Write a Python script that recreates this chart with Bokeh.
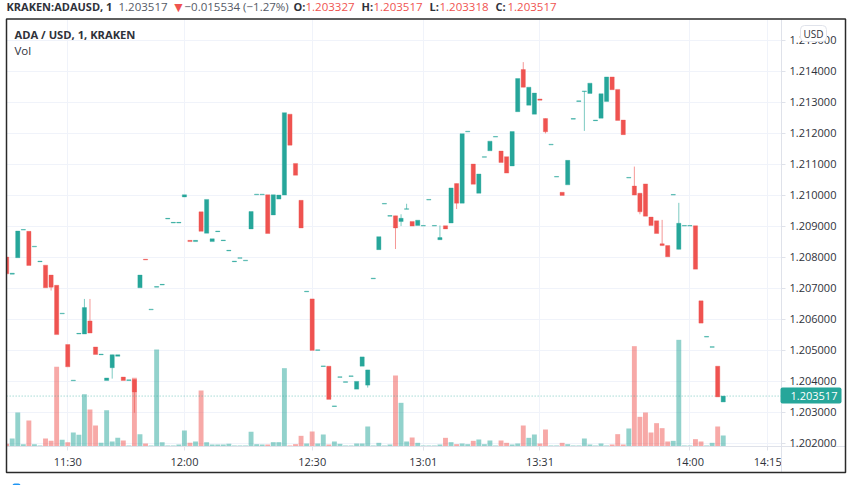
from bokeh.plotting import figure
from bokeh.models import (Range1d, FixedTicker, NumeralTickFormatter, Label,
                          BoxAnnotation, ColumnDataSource)
from bokeh.embed import file_html
from bokeh.resources import INLINE

opens = [1.20800,1.20745,1.20798,1.20887,1.20883,1.20833,1.20785,1.20774,1.20742,1.20709,
         1.20617,1.20518,1.20401,1.20552,1.20552,1.20594,1.20510,1.20485,1.20402,1.20443,
         1.20480,1.20413,1.20402,1.20405,1.20701,1.20793,1.20630,1.20703,1.20710,1.20923,
         1.20910,1.20910,1.20994,1.20854,1.20850,1.20946,1.20877,1.20850,1.20882,1.20853,
         1.20820,1.20785,1.20796,1.20788,1.20891,1.21001,1.21001,1.21001,1.20936,1.20987,
         1.21000,1.21261,1.21102,1.20983,1.20688,1.20665,1.20499,1.20447,1.20448,1.20318,
         1.20412,1.20396,1.20415,1.20374,1.20448,1.20387,1.20730,1.20824,1.20971,1.20932,
         1.20933,1.20915,1.20954,1.20915,1.20902,1.20900,1.20984,1.20900,1.20856,1.20901,
         1.20910,1.21037,1.20974,1.21204,1.21100,1.21006,1.21122,1.21143,1.21187,1.21142,
         1.21124,1.21094,1.21269,1.21405,1.21290,1.21261,1.21310,1.21247,1.21162,1.21058,
         1.21009,1.21033,1.21245,1.21302,1.21334,1.21328,1.21240,1.21248,1.21302,1.21381,
         1.21341,1.21242,1.21055,1.21029,1.21006,1.21036,1.20929,1.20917,1.20843,1.20837,
         1.21000,1.20825,1.20900,1.20900,1.20901,1.20659,1.20542,1.20509,1.20448,1.203327]
closes = [1.20746,1.20748,1.20884,1.20889,1.20773,1.20835,1.20787,1.20701,1.20703,1.20550,
          1.20619,1.20446,1.20403,1.20554,1.20637,1.20555,1.20486,1.20487,1.20410,1.20485,
          1.20485,1.20402,1.20404,1.20365,1.20742,1.20791,1.20632,1.20705,1.20712,1.20925,
          1.20912,1.20912,1.21001,1.20850,1.20854,1.20883,1.20986,1.20859,1.20884,1.20855,
          1.20822,1.20787,1.20798,1.20790,1.20947,1.21003,1.21003,1.20876,1.21001,1.21000,
          1.21266,1.21161,1.21064,1.20894,1.20690,1.20499,1.20501,1.20449,1.20341,1.20320,
          1.20414,1.20398,1.20417,1.20399,1.20478,1.20436,1.20732,1.20866,1.20973,1.20934,
          1.20894,1.20925,1.20956,1.20900,1.20919,1.20902,1.20986,1.20902,1.20863,1.20891,
          1.21023,1.20974,1.21198,1.21206,1.21035,1.21068,1.21124,1.21174,1.21189,1.21105,
          1.21071,1.21205,1.21376,1.21348,1.21348,1.21329,1.21306,1.21204,1.21164,1.21060,
          1.20999,1.21112,1.21247,1.21304,1.21336,1.21361,1.21242,1.21327,1.21381,1.21340,
          1.21241,1.21195,1.21057,1.21000,1.20946,1.20932,1.20902,1.20876,1.20837,1.20801,
          1.21002,1.20909,1.20902,1.20902,1.20761,1.20587,1.20544,1.20511,1.20349,1.203517]
wick_bars = [8,14,15,19,23,65,70,71,72,78,81,93,97,104,113,114,118,121]
wick_highs = [1.20742,1.20665,1.20665,1.20485,1.20405,1.20436,1.20933,1.20938,1.20972,1.20902,
              1.21037,1.21429,1.21247,1.21335,1.21092,1.21006,1.20920,1.20975]
wick_lows = [1.20692,1.20552,1.20555,1.20408,1.20298,1.20379,1.20826,1.20900,1.20955,1.20856,
             1.20955,1.21348,1.21199,1.21207,1.21000,1.20938,1.20837,1.20825]
volumes = [8,24,102,7,78,7,3,24,17,239,20,13,42,35,157,111,63,11,109,15,26,18,3,206,37,9,3,291,13,3,
           3,6,48,11,15,168,13,6,6,6,8,3,3,3,44,7,6,6,13,13,235,3,7,32,9,45,9,36,6,15,
           8,3,3,9,9,60,3,11,3,6,213,131,15,27,11,3,3,3,6,26,13,7,9,7,17,21,7,18,3,18,
           11,6,9,63,26,36,9,51,3,3,11,7,3,3,24,6,3,9,3,6,37,6,54,301,89,102,42,70,55,15,
           17,320,3,3,22,15,3,11,60,33]
time_ticks = [11,32,55,75,96,123,137]
time_labels = ["11:30","12:00","12:30","13:01","13:31","14:00","14:15"]
price_ticks = [1.202,1.203,1.204,1.205,1.206,1.207,1.208,1.209,1.210,1.211,1.212,1.213,1.214,1.215]
last_price = 1.203517

GREEN, RED = "#26a69a", "#ef5350"
FONT = "Open Sans"
TXT = "#2f323a"

# pane limits in data units: the bar axis ends at PANE_R, the price axis sits on PANE_B
PANE_L, PANE_R, PANE_B, PANE_T = 0, 139.49, 1.20189, 1.21568

bars = list(range(len(opens)))
colors = [GREEN if c >= o else RED for o, c in zip(opens, closes)]
src = ColumnDataSource(dict(x=bars, top=[max(a, b) for a, b in zip(opens, closes)],
                            bottom=[min(a, b) for a, b in zip(opens, closes)],
                            vol=volumes, color=colors))
wsrc = ColumnDataSource(dict(x=wick_bars, hi=wick_highs, lo=wick_lows,
                             color=[colors[i] for i in wick_bars]))

p = figure(width=852, height=485, frame_width=852, frame_height=485,
           min_border_left=0, min_border_right=0, min_border_top=0, min_border_bottom=0,
           x_range=Range1d(-1.107, 152.27), y_range=Range1d(1.200632, 1.216277),
           y_axis_location="right", output_backend="svg", toolbar_location=None,
           background_fill_color="white", border_fill_color="white")
p.outline_line_color = None
p.extra_y_ranges = {"vol": Range1d(-117, 1338)}

p.xaxis.fixed_location = PANE_B
p.yaxis.fixed_location = PANE_R
p.xaxis.bounds = (PANE_L, 151.0)
p.yaxis.bounds = (1.201052, PANE_T)
p.xaxis.ticker = FixedTicker(ticks=time_ticks)
p.xaxis.major_label_overrides = dict(zip(time_ticks, time_labels))
p.yaxis.ticker = FixedTicker(ticks=price_ticks)
p.yaxis.formatter = NumeralTickFormatter(format="0.000000")
for ax in (p.xaxis[0], p.yaxis[0]):
    ax.axis_line_color = "#dfe2ea"
    ax.major_tick_line_color = "#dfe2ea"
    ax.major_tick_out = 4
    ax.major_tick_in = 0
    ax.minor_tick_line_color = None
    ax.major_label_text_font = FONT
    ax.major_label_text_font_size = "11px"
    ax.major_label_text_color = TXT
p.yaxis.major_label_standoff = 4
p.xaxis.major_label_standoff = 3
p.xgrid.ticker = FixedTicker(ticks=time_ticks)
p.ygrid.ticker = FixedTicker(ticks=price_ticks)
p.xgrid.grid_line_color = "#f0f3fa"
p.ygrid.grid_line_color = "#f0f3fa"
p.xgrid.cross_bounds = (PANE_B, PANE_T)
p.ygrid.cross_bounds = (PANE_L, PANE_R)

p.vbar(x="x", width=0.88, bottom=0, top="vol", source=src, y_range_name="vol",
       fill_color="color", fill_alpha=0.5, line_color=None)
p.segment(x0=[PANE_L], x1=[PANE_R], y0=[last_price], y1=[last_price], line_color=GREEN, line_alpha=0.6,
          line_dash="1 2", line_width=1)
p.segment(x0="x", x1="x", y0="lo", y1="hi", source=wsrc, line_color="color", line_alpha=0.6, line_width=1)
p.vbar(x="x", width=0.76, bottom="bottom", top="top", source=src,
       fill_color="color", line_color="color", line_alpha=0.35, line_width=1)


def canvas_box(l, r, t, b, fill=None, line=None, radius=0, lw=1):
    box = BoxAnnotation(left=l, right=r, top=t, bottom=b, left_units="canvas", right_units="canvas",
                        top_units="canvas", bottom_units="canvas", fill_color=fill,
                        fill_alpha=1 if fill else 0, line_color=line, line_alpha=1, line_width=lw,
                        border_radius=radius, editable=False)
    p.add_layout(box)


def text(x, y, s, color=TXT, size="11px", bold=False, align="left"):
    p.add_layout(Label(x=x, y=y, x_units="canvas", y_units="canvas", text=s, text_color=color,
                       text_font=FONT, text_font_size=size, text_baseline="middle", text_align=align,
                       text_font_style="bold" if bold else "normal"))


# mask beyond the pane's left edge, then the frame
canvas_box(0, 6, 18, 473, fill="white")
canvas_box(6, 845, 18.5, 472, line="#2a2a2a", lw=1.5)
# last price tag
canvas_box(780, 841, 387, 403, fill=GREEN, radius=2)
text(790, 395, "1.203517", color="white", size="11px")
# currency button
canvas_box(800, 826, 25, 41, fill="white", line="#e0e3eb", radius=4)
text(813, 33, "USD", size="10px", align="center")

# legends
text(14, 34, "ADA / USD, 1, KRAKEN", size="11.2px", bold=True)
text(14, 50, "Vol", size="11.5px")
text(6, 6, "KRAKEN:ADAUSD, 1", size="11px", bold=True)
text(118, 6, "1.203517", size="11.5px", color="#555a66")
text(171, 5.5, "\u25bc", size="14px", color=RED)
text(184, 6, "\u22120.015534 (\u22121.27%)", size="11.5px", color="#555a66")
text(293, 6, "O:", size="11px", bold=True)
text(305, 6, "1.203327", size="11.5px", color=RED)
text(361, 6, "H:", size="11px", bold=True)
text(373, 6, "1.203517", size="11.5px", color=RED)
text(429, 6, "L:", size="11px", bold=True)
text(439, 6, "1.203318", size="11.5px", color=RED)
text(495, 6, "C:", size="11px", bold=True)
text(507, 6, "1.203517", size="11.5px", color=RED)
# partly visible badge at the lower edge
canvas_box(12, 20, 483, 487, fill="#2196f3", radius=4)

open("out.html", "w").write(file_html(p, INLINE))
